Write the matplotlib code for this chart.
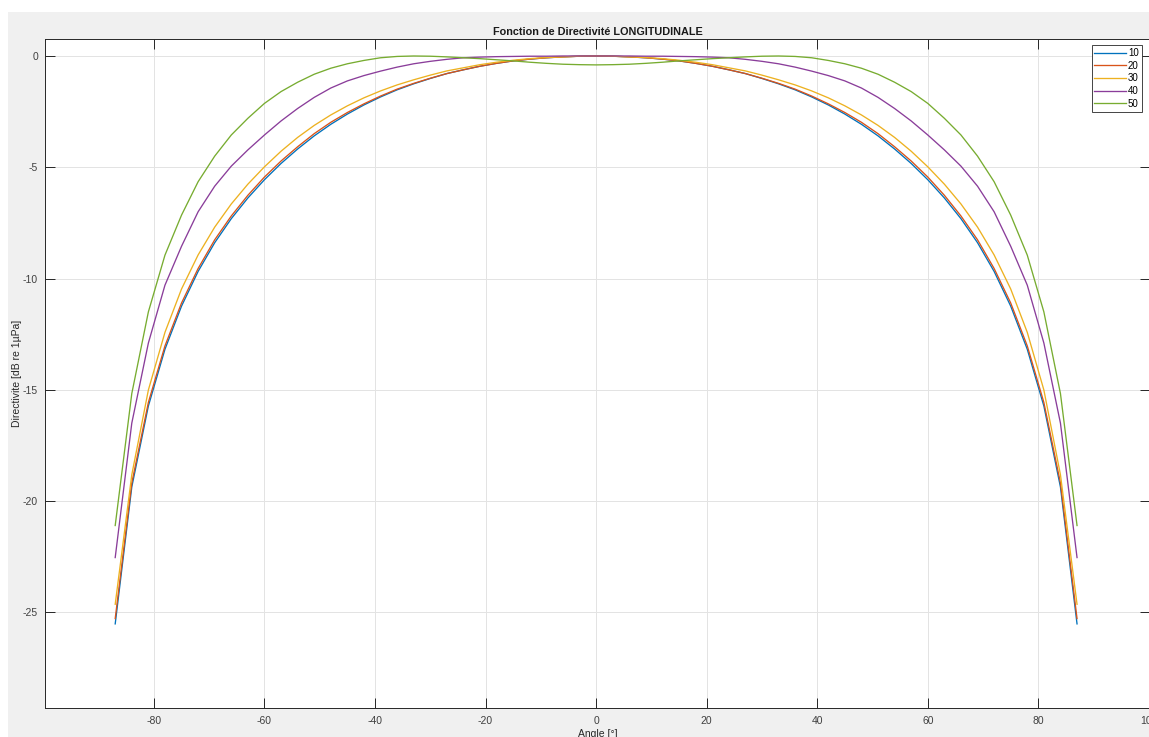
import numpy as np
import matplotlib
matplotlib.use("Agg")
import matplotlib.pyplot as plt
from matplotlib.patches import Rectangle

plt.rcParams["font.family"] = ["Liberation Sans", "DejaVu Sans"]
plt.rcParams["axes.unicode_minus"] = False

# angles in degrees, 3 deg step
angles = np.arange(-87, 90, 3)

d10 = [-25.52, -19.37, -15.73, -13.18, -11.24, -9.68, -8.39, -7.31, -6.38, -5.56,
       -4.83, -4.18, -3.59, -3.07, -2.61, -2.20, -1.84, -1.52, -1.25, -1.01,
       -0.79, -0.62, -0.46, -0.33, -0.22, -0.14, -0.08, -0.04, -0.01, 0.00,
       -0.01, -0.04, -0.08, -0.14, -0.22, -0.33, -0.46, -0.62, -0.79,
       -1.01, -1.25, -1.52, -1.84, -2.20, -2.61, -3.07, -3.59, -4.18, -4.83,
       -5.56, -6.38, -7.31, -8.39, -9.68, -11.24, -13.18, -15.73, -19.37, -25.52]

d20 = [-25.28, -19.19, -15.57, -13.03, -11.10, -9.55, -8.26, -7.19, -6.26, -5.44,
       -4.72, -4.08, -3.49, -2.98, -2.54, -2.15, -1.80, -1.49, -1.23, -1.00,
       -0.79, -0.62, -0.46, -0.33, -0.22, -0.14, -0.08, -0.04, -0.01, 0.00,
       -0.01, -0.04, -0.08, -0.14, -0.22, -0.33, -0.46, -0.62, -0.79,
       -1.00, -1.23, -1.49, -1.80, -2.15, -2.54, -2.98, -3.49, -4.08, -4.72,
       -5.44, -6.26, -7.19, -8.26, -9.55, -11.10, -13.03, -15.57, -19.19, -25.28]

d30 = [-24.64, -18.82, -15.01, -12.42, -10.47, -8.94, -7.69, -6.65, -5.76, -4.98,
       -4.28, -3.66, -3.12, -2.65, -2.24, -1.88, -1.57, -1.30, -1.07, -0.86,
       -0.67, -0.53, -0.39, -0.28, -0.19, -0.12, -0.07, -0.04, -0.01, 0.00,
       -0.01, -0.04, -0.07, -0.12, -0.19, -0.28, -0.39, -0.53, -0.67,
       -0.86, -1.07, -1.30, -1.57, -1.88, -2.24, -2.65, -3.12, -3.66, -4.28,
       -4.98, -5.76, -6.65, -7.69, -8.94, -10.47, -12.42, -15.01, -18.82, -24.64]

d40 = [-22.54, -16.50, -12.90, -10.30, -8.55, -7.00, -5.85, -4.95, -4.22, -3.55,
       -2.92, -2.36, -1.86, -1.44, -1.12, -0.88, -0.68, -0.50, -0.35, -0.24,
       -0.15, -0.08, -0.05, -0.03, -0.02, -0.01, -0.01, 0.00, 0.00, 0.00,
       0.00, 0.00, -0.01, -0.01, -0.02, -0.03, -0.05, -0.08, -0.15,
       -0.24, -0.35, -0.50, -0.68, -0.88, -1.12, -1.44, -1.86, -2.36, -2.92,
       -3.55, -4.22, -4.95, -5.85, -7.00, -8.55, -10.30, -12.90, -16.50, -22.54]

d50 = [-21.10, -15.17, -11.50, -8.95, -7.15, -5.65, -4.50, -3.55, -2.80, -2.13,
       -1.60, -1.18, -0.82, -0.55, -0.35, -0.20, -0.08, -0.02, 0.00, -0.01,
       -0.04, -0.08, -0.12, -0.17, -0.22, -0.28, -0.33, -0.37, -0.39, -0.40,
       -0.39, -0.37, -0.33, -0.28, -0.22, -0.17, -0.12, -0.08, -0.04,
       -0.01, 0.00, -0.02, -0.08, -0.20, -0.35, -0.55, -0.82, -1.18, -1.60,
       -2.13, -2.80, -3.55, -4.50, -5.65, -7.15, -8.95, -11.50, -15.17, -21.10]

labels = ["10", "20", "30", "40", "50"]
series = [d10, d20, d30, d40, d50]
colors = ["#0072BD", "#D95319", "#EDB120", "#8A3D9A", "#77AC30"]

W, H = 1149, 737
fig = plt.figure(figsize=(W / 100, H / 100), dpi=100, facecolor="white")
fig.patches.append(Rectangle((8 / W, 0), 1, (H - 12) / H, transform=fig.transFigure,
                             facecolor="#F0F0F0", edgecolor="none", zorder=-10))

ax = fig.add_axes([45 / W, (H - 708) / H, (1150 - 45) / W, (708 - 39.3) / H])
ax.set_facecolor("white")

for vals, lab, c in zip(series, labels, colors):
    ax.plot(angles, vals, color=c, lw=0.95, label=lab)

ax.set_xlim(-99.7, 100.2)
ax.set_ylim(-29.3, 0.75)
ax.set_xticks(np.arange(-80, 101, 20))
ax.set_yticks(np.arange(-25, 1, 5))

ax.grid(True, color="#E3E3E3", lw=0.7)
ax.set_axisbelow(True)
for s in ax.spines.values():
    s.set_color("#262626")
    s.set_linewidth(0.7)
ax.tick_params(direction="in", length=7, width=0.7, color="#262626",
               top=True, right=True, labelsize=7.5, labelcolor="#404040")
ax.tick_params(axis="x", pad=6)
ax.tick_params(axis="y", pad=5)

ax.set_title("Fonction de Directivité LONGITUDINALE", fontsize=7.8,
             fontweight="bold", color="#1a1a1a", pad=3)
ax.set_ylabel("Directivite [dB re 1µPa]", fontsize=7.5, color="#262626", labelpad=1)
ax.set_xlabel("Angle [°]", fontsize=7.5, color="#262626", labelpad=2)

leg = ax.legend(loc="upper right", bbox_to_anchor=(1141.7 / W, 1 - 45 / H),
                bbox_transform=fig.transFigure, fontsize=7, frameon=True,
                fancybox=False, framealpha=1, edgecolor="#262626",
                handlelength=3.2, handletextpad=0.25, labelspacing=0.28,
                borderpad=0.3, borderaxespad=0)
leg.get_frame().set_linewidth(0.6)

fig.savefig("out.png", dpi=100, facecolor=fig.get_facecolor())
